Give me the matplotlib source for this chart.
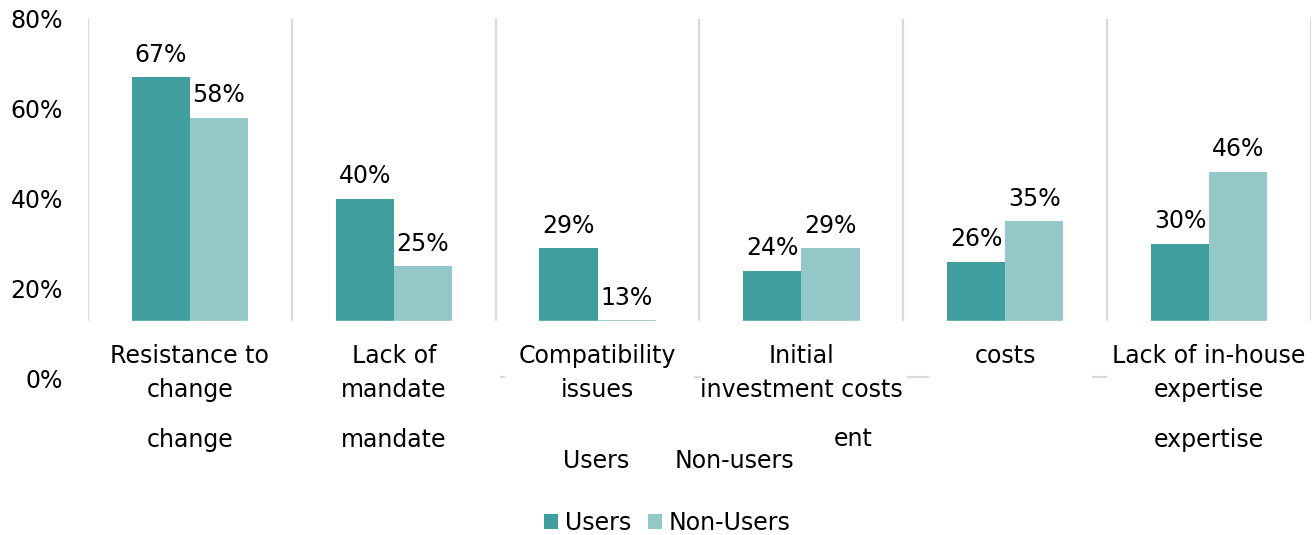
import numpy as np
import matplotlib
matplotlib.use("Agg")
import matplotlib.pyplot as plt
import matplotlib.transforms as mtransforms

# category labels, as they show up (two lines each)
cat_line1 = ["Resistance to", "Lack of", "Compatibility", "Initial", "costs", "Lack of in-house"]
cat_line2 = ["change", "mandate", "issues", "investment costs", "", "expertise"]
# leftover duplicate text row in the original picture
ghost_line = ["change", "mandate", "", "", "", "expertise"]

users = [67, 40, 29, 24, 26, 30]
non_users = [58, 25, 13, 29, 35, 46]

y_ticks = [0, 20, 40, 60, 80]
y_tick_labels = ["0%", "20%", "40%", "60%", "80%"]

users_color = "#409e9f"
non_users_color = "#93c7c8"
sep_color = "#d9d9d9"
fs = 17

plt.rcParams["font.family"] = ["DejaVu Sans"]

fig = plt.figure(figsize=(13.16, 5.35), dpi=100)
ax = fig.add_axes([88 / 1316, 0.2925, (1311 - 88) / 1316, 0.6729])

x = np.arange(len(users))
w = 0.285
b1 = ax.bar(x - w / 2, users, w, color=users_color, zorder=2, label="Users")
b2 = ax.bar(x + w / 2, non_users, w, color=non_users_color, zorder=2, label="Non-Users")

# separators between categories
seps = np.arange(len(users) + 1) - 0.5
ax.vlines(seps, 0, 80, color=sep_color, lw=1.6, zorder=1)

ax.set_xlim(-0.5, len(users) - 0.5)
ax.set_ylim(0, 80)
ax.set_yticks(y_ticks)
ax.set_yticklabels(y_tick_labels, fontsize=fs)
ax.set_xticks([])
ax.tick_params(axis="y", length=0, pad=18)
for s in ax.spines.values():
    s.set_visible(False)

# white block that hides the bottom of the bars
trans = mtransforms.blended_transform_factory(ax.transAxes, ax.transData)
ax.add_patch(plt.Rectangle((0, -1), 1, 13.7, transform=trans, color="white",
                           zorder=3, clip_on=False))

# small bits of the base line that stay visible
baseline_bits = [(1.523, 1.547), (2.471, 2.505), (3.516, 3.624), (4.425, 4.498)]
for a, b in baseline_bits:
    ax.hlines(0.4, a, b, color=sep_color, lw=1.6, zorder=4, clip_on=False)

# value labels
for bars, vals in [(b1, users), (b2, non_users)]:
    for r, v in zip(bars, vals):
        ax.annotate(f"{v}%", (r.get_x() + r.get_width() / 2, v), xytext=(0, 11),
                    textcoords="offset points", ha="center", va="baseline",
                    fontsize=fs, zorder=5)

# category labels
for i in range(len(users)):
    ax.text(i, 3.44, cat_line1[i], ha="center", va="baseline", fontsize=fs,
            zorder=5, clip_on=False)
    ax.text(i, -4.1, cat_line2[i], ha="center", va="baseline", fontsize=fs,
            zorder=5, clip_on=False)
    ax.text(i, -15.2, ghost_line[i], ha="center", va="baseline", fontsize=fs,
            zorder=5, clip_on=False)

ax.text(3.256, -15.1, "ent", ha="center", va="baseline", fontsize=fs, clip_on=False)
ax.text(1.994, -19.9, "Users", ha="center", va="baseline", fontsize=fs, clip_on=False)
ax.text(2.672, -19.9, "Non-users", ha="center", va="baseline", fontsize=fs, clip_on=False)

fig.legend(handles=[b1, b2], loc="lower center", bbox_to_anchor=(0.507, -0.022),
           ncol=2, frameon=False, fontsize=fs, handlelength=0.6, handleheight=0.6,
           handletextpad=0.3, columnspacing=0.7, borderpad=0)

fig.savefig("out.png", dpi=100)
